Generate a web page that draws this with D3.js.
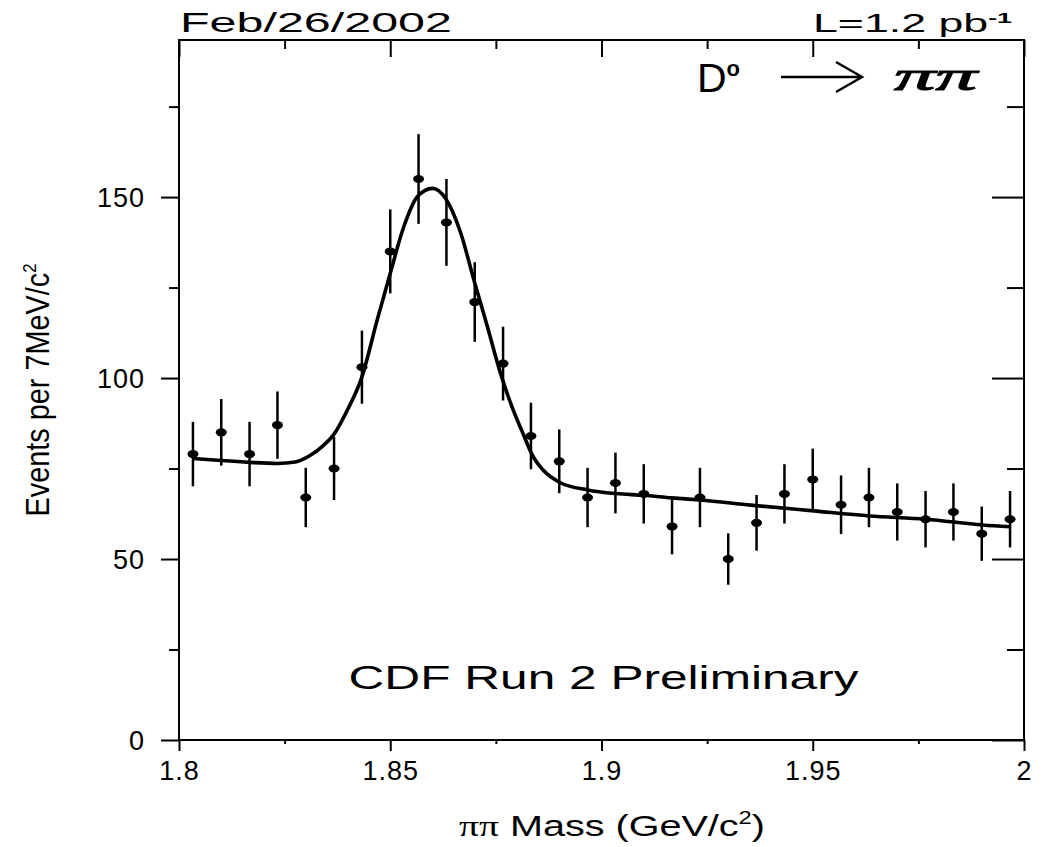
<!DOCTYPE html>
<html>
<head>
<meta charset="utf-8">
<script src="https://cdnjs.cloudflare.com/ajax/libs/d3/7.8.5/d3.min.js"></script>
<style>
body { margin: 0; background: #fff; }
text { font-family: "Liberation Sans", Arial, sans-serif; fill: #000; }
</style>
</head>
<body>
<div id="vis"></div>
<script>
"use strict";
// bin centres in GeV/c^2 (30 bins from 1.8 to 2.0)
var binMass = [1.8033, 1.8100, 1.8167, 1.8233, 1.8300, 1.8367, 1.8433, 1.8500, 1.8567, 1.8633,
    1.8700, 1.8767, 1.8833, 1.8900, 1.8967, 1.9033, 1.9100, 1.9167, 1.9233, 1.9300,
    1.9367, 1.9433, 1.9500, 1.9567, 1.9633, 1.9700, 1.9767, 1.9833, 1.9900, 1.9967];
var counts = [79, 85, 79, 87, 67, 75, 103, 135, 155, 143,
    121, 104, 84, 77, 67, 71, 68, 59, 67, 50,
    60, 68, 72, 65, 67, 63, 61, 63, 57, 61];
var errors = [8.9, 9.2, 8.9, 9.3, 8.2, 8.7, 10.1, 11.6, 12.4, 12.0,
    11.0, 10.2, 9.2, 8.8, 8.2, 8.4, 8.2, 7.7, 8.2, 7.1,
    7.7, 8.2, 8.5, 8.1, 8.2, 7.9, 7.8, 7.9, 7.5, 7.8];
// fitted curve
var fitMass = [1.8033, 1.8100, 1.8167, 1.8233, 1.8275, 1.8310, 1.8340, 1.8367, 1.8400, 1.8432,
    1.8469, 1.8501, 1.8532, 1.8564, 1.8600, 1.8631, 1.8667, 1.8698, 1.8730, 1.8761,
    1.8790, 1.8813, 1.8836, 1.8864, 1.8904, 1.8967, 1.9034, 1.9100, 1.9166, 1.9233,
    1.9353, 1.9502, 1.9635, 1.9768, 1.9902, 1.9967];
var fitValue = [77.8, 77.2, 76.7, 76.4, 76.8, 78.6, 81.2, 84.5, 91.5, 100.0,
    116.0, 129.4, 141.8, 150.1, 152.4, 149.6, 140.0, 127.1, 114.2, 101.3,
    91.5, 85.0, 78.8, 74.3, 71.0, 69.1, 68.1, 67.6, 66.9, 66.3,
    64.9, 63.3, 61.9, 61.0, 59.4, 58.9];
var xMajor = [1.8, 1.85, 1.9, 1.95, 2];
var xMinor = [1.825, 1.875, 1.925, 1.975];
var yMajor = [0, 50, 100, 150];
var yMinor = [25, 75, 125, 175];

var width = 1044, height = 847;
var margin = { top: 40, right: 20, bottom: 107, left: 179 };

var svg = d3.select('#vis')
    .append('svg')
    .attr('width', width)
    .attr('height', height);

var x = d3.scaleLinear()
    .domain([1.8, 2.0])
    .range([margin.left, width - margin.right]);
var y = d3.scaleLinear()
    .domain([0, 193.4])
    .range([height - margin.bottom, margin.top]);

var x0 = x.range()[0], x1 = x.range()[1];
var y0 = y.range()[0], y1 = y.range()[1];

function drawAxis(axis, tx, ty) {
    var g = svg.append('g')
        .attr('transform', 'translate(' + tx + ',' + ty + ')')
        .call(axis);
    g.select('.domain').remove();
    g.selectAll('line').attr('stroke', '#000').attr('stroke-width', 2);
    g.selectAll('text')
        .attr('fill', '#000')
        .style('font-size', '27px')
        .style('font-family', '"Liberation Sans", Arial, sans-serif');
    return g;
}

// bottom axis, ticks outward
var gb = drawAxis(d3.axisBottom(x).tickValues(xMajor).tickSize(11).tickSizeOuter(0)
    .tickPadding(10).tickFormat(function (d) { return '' + d; }), 0, y0);
gb.selectAll('text').style('letter-spacing', '1px');
drawAxis(d3.axisBottom(x).tickValues(xMinor).tickSize(4).tickSizeOuter(0)
    .tickFormat(''), 0, y0);
// top axis, ticks inward
drawAxis(d3.axisTop(x).tickValues(xMajor).tickSize(-17).tickSizeOuter(0)
    .tickFormat(''), 0, y1);
drawAxis(d3.axisTop(x).tickValues(xMinor).tickSize(-9).tickSizeOuter(0)
    .tickFormat(''), 0, y1);
// left axis, ticks outward
var gl = drawAxis(d3.axisLeft(y).tickValues(yMajor).tickSize(18).tickSizeOuter(0)
    .tickPadding(16).tickFormat(function (d) { return '' + d; }), x0, 0);
gl.selectAll('text').attr('dy', '0.36em').style('letter-spacing', '1px');
drawAxis(d3.axisLeft(y).tickValues(yMinor).tickSize(10).tickSizeOuter(0)
    .tickFormat(''), x0, 0);
// right axis, ticks inward
drawAxis(d3.axisRight(y).tickValues(yMajor).tickSize(-32).tickSizeOuter(0)
    .tickFormat(''), x1, 0);
drawAxis(d3.axisRight(y).tickValues(yMinor).tickSize(-17).tickSizeOuter(0)
    .tickFormat(''), x1, 0);

// frame
svg.append('rect')
    .attr('x', x0)
    .attr('y', y1)
    .attr('width', x1 - x0)
    .attr('height', y0 - y1)
    .attr('fill', 'none')
    .attr('stroke', '#000')
    .attr('stroke-width', 2);

// fit curve
var line = d3.line()
    .x(function (d) { return x(d[0]); })
    .y(function (d) { return y(d[1]); })
    .curve(d3.curveMonotoneX);
svg.append('path')
    .datum(d3.zip(fitMass, fitValue))
    .attr('d', line)
    .attr('fill', 'none')
    .attr('stroke', '#000')
    .attr('stroke-width', 3.6)
    .attr('stroke-linejoin', 'round');

// data points with error bars
var pts = svg.selectAll('.pt')
    .data(d3.range(binMass.length))
    .enter().append('g')
    .classed('pt', true);
pts.append('line')
    .attr('x1', function (i) { return x(binMass[i]); })
    .attr('x2', function (i) { return x(binMass[i]); })
    .attr('y1', function (i) { return y(counts[i] - errors[i]); })
    .attr('y2', function (i) { return y(counts[i] + errors[i]); })
    .attr('stroke', '#000')
    .attr('stroke-width', 2.5);
pts.append('ellipse')
    .attr('cx', function (i) { return x(binMass[i]); })
    .attr('cy', function (i) { return y(counts[i]); })
    .attr('rx', 5.5)
    .attr('ry', 4)
    .attr('fill', '#000');

// labels
svg.append('text')
    .attr('x', x0 + 1)
    .attr('y', 32)
    .attr('textLength', 272)
    .attr('lengthAdjust', 'spacingAndGlyphs')
    .style('font-size', '27px')
    .text('Feb/26/2002');

var lum = svg.append('text')
    .attr('x', 813)
    .attr('y', 32)
    .attr('textLength', 199)
    .attr('lengthAdjust', 'spacingAndGlyphs')
    .style('font-size', '25px');
lum.append('tspan').text('L=1.2 pb');
lum.append('tspan').attr('dy', -9).style('font-size', '15px').style('font-weight', 'bold').text('-1');

var decay = svg.append('g');
var dtext = decay.append('text')
    .attr('x', 697)
    .attr('y', 92)
    .style('font-size', '41px');
dtext.append('tspan').text('D');
dtext.append('tspan').attr('dy', -16).style('font-size', '22px').style('font-weight', 'bold').text('o');
decay.append('path')
    .attr('d', 'M781,77H861M836,62L862,77L836,92')
    .attr('fill', 'none')
    .attr('stroke', '#000')
    .attr('stroke-width', 2.5);
decay.append('text')
    .attr('x', 894)
    .attr('y', 90)
    .attr('textLength', 83)
    .attr('lengthAdjust', 'spacingAndGlyphs')
    .attr('stroke', '#000')
    .attr('stroke-width', 1)
    .style('font-family', '"Liberation Serif", serif')
    .style('font-style', 'italic')
    .style('font-size', '42px')
    .text('\u03c0\u03c0');

svg.append('text')
    .attr('x', (x0 + x1) / 2 + 2)
    .attr('y', 689)
    .attr('text-anchor', 'middle')
    .attr('textLength', 510)
    .attr('lengthAdjust', 'spacingAndGlyphs')
    .style('font-size', '33px')
    .text('CDF Run 2 Preliminary');

var xl = svg.append('text')
    .attr('x', 612)
    .attr('y', 836)
    .attr('text-anchor', 'middle')
    .attr('textLength', 306)
    .attr('lengthAdjust', 'spacingAndGlyphs')
    .style('font-size', '30px');
xl.append('tspan').style('font-family', '"Liberation Serif", serif').text('\u03c0\u03c0');
xl.append('tspan').text(' Mass (GeV/c');
xl.append('tspan').attr('dy', -12).style('font-size', '18px').text('2');
xl.append('tspan').attr('dy', 12).text(')');

var yl = svg.append('text')
    .attr('transform', 'translate(49,' + ((y0 + y1) / 2) + ') rotate(-90)')
    .attr('text-anchor', 'middle')
    .attr('textLength', 253)
    .attr('lengthAdjust', 'spacingAndGlyphs')
    .style('font-size', '33px');
yl.append('tspan').text('Events per 7MeV/c');
yl.append('tspan').attr('dy', -13).style('font-size', '19px').text('2');
</script>
</body>
</html>
